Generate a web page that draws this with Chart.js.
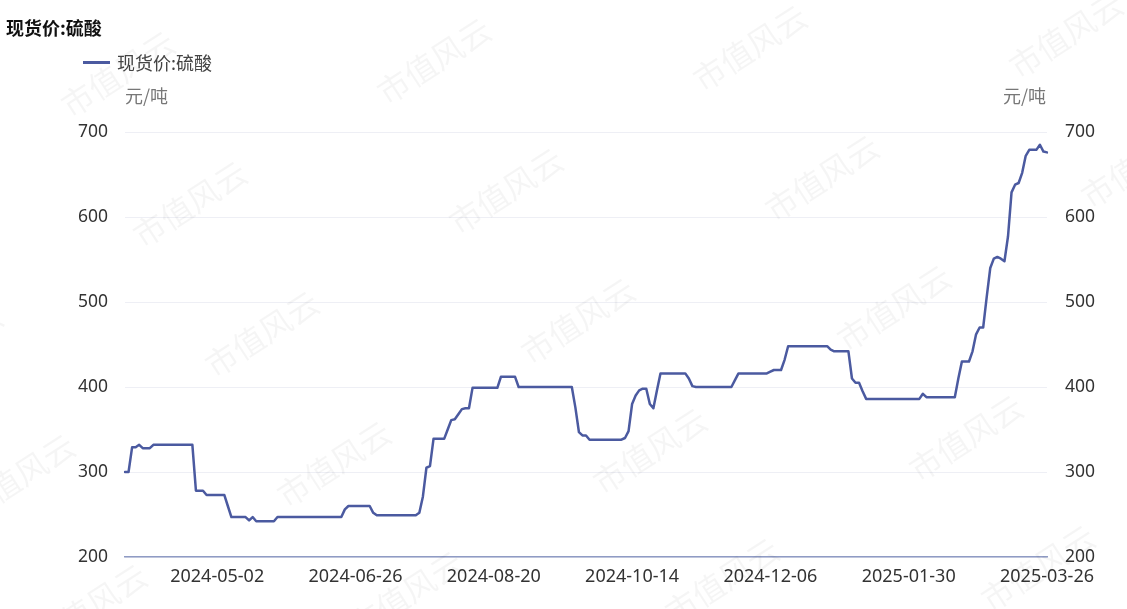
<!DOCTYPE html>
<html>
<head>
<meta charset="utf-8">
<script src="https://cdn.jsdelivr.net/npm/chart.js@4.4.1/dist/chart.umd.min.js"></script>
<style>
  body { margin: 0; background: #fff; font-family: 'Noto Sans CJK SC', 'Noto Sans', sans-serif; }
  #wrap { position: relative; width: 1127px; height: 609px; overflow: hidden; }
  #chart { position: absolute; left: 0; top: 0; }
  .txt { position: absolute; white-space: nowrap; line-height: 26px; }
  #title { left: 6px; top: 14px; font-size: 18px; font-weight: bold; color: #111; }
  #legend { left: 83px; top: 49px; font-size: 18px; color: #444; display: flex; align-items: center; }
  #legend i { display: inline-block; width: 27px; height: 3px; background: #4b5aa0; margin-right: 7px; }
  .unit { top: 82px; font-size: 18px; color: #777; }
</style>
</head>
<body>
<div id="wrap">
  <canvas id="chart" width="1127" height="609"></canvas>
  <div id="title" class="txt">现货价:硫酸</div>
  <div id="legend" class="txt"><i></i>现货价:硫酸</div>
  <div class="txt unit" style="left:125px">元/吨</div>
  <div class="txt unit" style="left:1003px">元/吨</div>
</div>
<script>
/* sulfuric acid spot price, weekdays 2024-03-27 .. 2025-03-26 */

const startDate = '2024-03-27';
const pointCount = 261;

const tickLabels = ['2024-05-02', '2024-06-26', '2024-08-20', '2024-10-14', '2024-12-06', '2025-01-30', '2025-03-26'];

const yTicks = [200, 300, 400, 500, 600, 700];

const prices = [
  300, 300, 329, 329, 332, 328, 328, 328, 332, 332,
  332, 332, 332, 332, 332, 332, 332, 332, 332, 332,
  278, 278, 278, 273, 273, 273, 273, 273, 273, 260,
  247, 247, 247, 247, 247, 243, 247, 242, 242, 242,
  242, 242, 242, 247, 247, 247, 247, 247, 247, 247,
  247, 247, 247, 247, 247, 247, 247, 247, 247, 247,
  247, 247, 256, 260, 260, 260, 260, 260, 260, 260,
  252, 249, 249, 249, 249, 249, 249, 249, 249, 249,
  249, 249, 249, 252, 271, 305, 307, 339, 339, 339,
  339, 350, 361, 362, 368, 374, 375, 375, 399, 399,
  399, 399, 399, 399, 399, 399, 412, 412, 412, 412,
  412, 400, 400, 400, 400, 400, 400, 400, 400, 400,
  400, 400, 400, 400, 400, 400, 400, 376, 347, 343,
  343, 338, 338, 338, 338, 338, 338, 338, 338, 338,
  338, 340, 348, 380, 390, 396, 398, 398, 380, 375,
  396, 416, 416, 416, 416, 416, 416, 416, 416, 410,
  401, 400, 400, 400, 400, 400, 400, 400, 400, 400,
  400, 400, 408, 416, 416, 416, 416, 416, 416, 416,
  416, 416, 418, 420, 420, 420, 432, 448, 448, 448,
  448, 448, 448, 448, 448, 448, 448, 448, 448, 444,
  442, 442, 442, 442, 442, 410, 405, 405, 395, 386,
  386, 386, 386, 386, 386, 386, 386, 386, 386, 386,
  386, 386, 386, 386, 386, 392, 388, 388, 388, 388,
  388, 388, 388, 388, 388, 410, 430, 430, 430, 442,
  462, 470, 470, 506, 540, 551, 553, 551, 548, 577,
  629, 638, 640, 652, 672, 679, 679, 679, 685, 677,
  676
];

function weekdayDates(start, n) {
  const out = [];
  const d = new Date(start + 'T00:00:00Z');
  while (out.length < n) {
    const wd = d.getUTCDay();
    if (wd !== 0 && wd !== 6) out.push(d.toISOString().slice(0, 10));
    d.setUTCDate(d.getUTCDate() + 1);
  }
  return out;
}

const categories = weekdayDates(startDate, pointCount);

const FONT = "'Noto Sans CJK SC', 'Noto Sans', sans-serif";
const TICK_FONT = "'Noto Sans', 'Noto Sans CJK SC', sans-serif";
const LINE = '#4b5aa0';

// faint diagonal watermark, tiled like the source site
const watermark = {
  id: 'watermark',
  beforeDatasetsDraw(chart) {
    const ctx = chart.ctx;
    ctx.save();
    ctx.fillStyle = 'rgba(0,0,0,0.04)';
    ctx.font = '32px ' + FONT;
    ctx.textAlign = 'center';
    ctx.textBaseline = 'middle';
    for (let r = -1; r < 6; r++) {
      for (let k = -1; k < 5; k++) {
        const x = 118 + 72 * r + 316 * k;
        const y = 74 + 130 * r - 13 * k;
        ctx.save();
        ctx.translate(x, y);
        ctx.rotate(-33 * Math.PI / 180);
        ctx.fillText('市值风云', 0, 0);
        ctx.restore();
      }
    }
    ctx.restore();
  }
};

new Chart(document.getElementById('chart'), {
  type: 'line',
  data: {
    labels: categories,
    datasets: [{
      label: '现货价:硫酸',
      data: prices,
      borderColor: LINE,
      backgroundColor: LINE,
      borderWidth: 2.5,
      borderJoinStyle: 'round',
      borderCapStyle: 'round',
      pointRadius: 0,
      pointHoverRadius: 0,
      tension: 0,
      fill: false
    }]
  },
  options: {
    responsive: false,
    animation: false,
    devicePixelRatio: 1,
    layout: { padding: { left: 6, right: 6, top: 132, bottom: 0 } },
    plugins: {
      legend: { display: false },
      title: { display: false },
      tooltip: { enabled: false }
    },
    scales: {
      x: {
        type: 'category',
        grid: { display: false, drawTicks: false },
        border: { display: true, color: '#8f9bc4', width: 1.5 },
        ticks: {
          autoSkip: false,
          maxRotation: 0,
          padding: 9,
          color: '#333',
          font: { family: TICK_FONT, size: 18 },
          callback(v, i) {
            const lab = categories[i];
            return tickLabels.includes(lab) ? lab : null;
          }
        },
        afterFit(s) { s.height = 52; }
      },
      y: {
        position: 'left',
        min: yTicks[0],
        max: yTicks[yTicks.length - 1],
        afterBuildTicks(s) { s.ticks = yTicks.map(v => ({ value: v })); },
        grid: { color: '#eeeff5', drawTicks: false },
        border: { display: false },
        ticks: { padding: 17, color: '#333', font: { family: TICK_FONT, size: 17.5 } },
        afterFit(s) { s.width = 119; }
      },
      y2: {
        position: 'right',
        min: yTicks[0],
        max: yTicks[yTicks.length - 1],
        afterBuildTicks(s) { s.ticks = yTicks.map(v => ({ value: v })); },
        grid: { display: false, drawTicks: false },
        border: { display: false },
        ticks: { padding: 18, color: '#333', font: { family: TICK_FONT, size: 17.5 } },
        afterFit(s) { s.width = 74; }
      }
    }
  },
  plugins: [watermark]
});
</script>
</body>
</html>
